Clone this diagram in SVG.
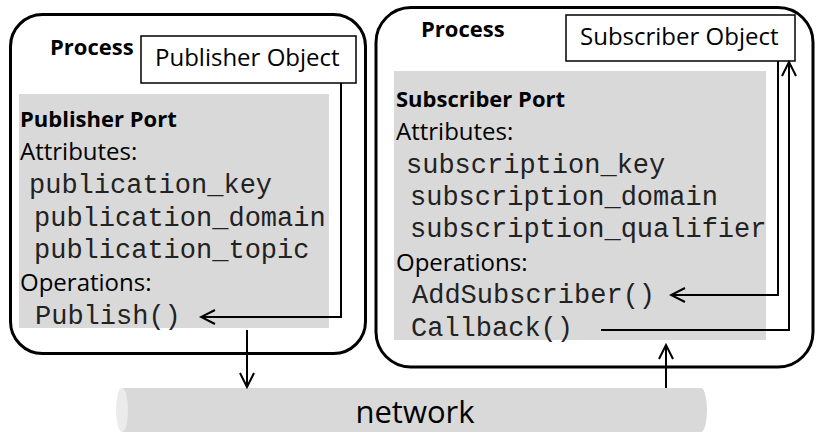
<svg xmlns="http://www.w3.org/2000/svg" width="817" height="433" viewBox="0 0 817 433">
<defs>
<style>
.proc{fill:#fff;stroke:#000;stroke-width:3}
.obj{fill:#fff;stroke:#000;stroke-width:1.5}
.port{fill:#d9d9d9;stroke:none}
.sans{font-family:"Open Sans","Liberation Sans",sans-serif;font-size:24px;fill:#000}
.bold{font-family:"Open Sans","Liberation Sans",sans-serif;font-size:22px;font-weight:bold;fill:#000}
.mono{font-family:"Liberation Mono","DejaVu Sans Mono",monospace;font-size:27px;fill:#222}
.conn{fill:none;stroke:#000;stroke-width:2}
</style>
<marker id="arr" markerUnits="userSpaceOnUse" markerWidth="18" markerHeight="18" viewBox="0 0 18 18" refX="16" refY="9" orient="auto">
<path d="M2,2 L16,9 L2,16" fill="none" stroke="#000" stroke-width="2"/>
</marker>
</defs>
<rect width="817" height="433" fill="#fff"/>
<g id="network">
<path d="M122,388 H701 A6,22 0 0 1 701,432 H122 Z" fill="#d9d9d9"/>
<ellipse cx="122" cy="410" rx="6" ry="22" fill="#ebebeb"/>
<text x="415" y="423" text-anchor="middle" class="sans" style="font-size:31px">network</text>
</g>
<g id="publisher-process">
<rect class="proc" x="10.5" y="14.5" width="355" height="339" rx="32"/>
<text x="50" y="55" class="bold">Process</text>
</g>
<g id="publisher-port">
<rect class="port" x="19" y="94" width="310" height="234"/>
<text x="20" y="127" class="bold">Publisher Port</text>
<text x="20" y="160" class="sans">Attributes:</text>
<text x="29" y="193" class="mono">publication_key</text>
<text x="34" y="226" class="mono">publication_domain</text>
<text x="34" y="258" class="mono">publication_topic</text>
<text x="20" y="291" class="sans">Operations:</text>
<text x="35" y="324" class="mono">Publish()</text>
</g>
<g id="publisher-object">
<rect class="obj" x="141" y="36" width="215" height="47"/>
<text x="155" y="66" class="sans">Publisher Object</text>
</g>
<g id="subscriber-process">
<rect class="proc" x="376" y="7.5" width="437" height="359.5" rx="35"/>
<text x="421" y="37" class="bold">Process</text>
</g>
<g id="subscriber-port">
<rect class="port" x="394" y="71" width="372" height="269"/>
<text x="396" y="107" class="bold">Subscriber Port</text>
<text x="396" y="140" class="sans">Attributes:</text>
<text x="406" y="173" class="mono">subscription_key</text>
<text x="410" y="205" class="mono">subscription_domain</text>
<text x="410" y="237" class="mono">subscription_qualifier</text>
<text x="396" y="271" class="sans">Operations:</text>
<text x="412" y="303" class="mono">AddSubscriber()</text>
<text x="411" y="336" class="mono">Callback()</text>
</g>
<g id="subscriber-object">
<rect class="obj" x="566" y="15" width="229" height="46"/>
<text x="580" y="45" class="sans">Subscriber Object</text>
</g>
<g id="connectors">
<path class="conn" d="M341,83 V317 H201" marker-end="url(#arr)"/>
<path class="conn" d="M247,330 V387" marker-end="url(#arr)"/>
<path class="conn" d="M666,388 V345" marker-end="url(#arr)"/>
<path class="conn" d="M778,61 V295 H671" marker-end="url(#arr)"/>
<path class="conn" d="M601,330 H789 V62" marker-end="url(#arr)"/>
</g>
</svg>
